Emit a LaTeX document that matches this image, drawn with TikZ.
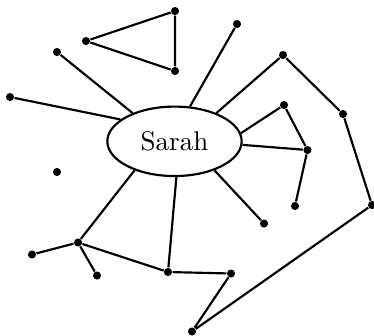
\documentclass[tikz,border=0pt]{standalone}
\usetikzlibrary{shapes.geometric}
\begin{document}
\begin{tikzpicture}[x=0.37pt,y=-0.37pt,
  dot/.style={circle,fill=black,inner sep=0pt,minimum size=3pt},
  edge/.style={draw=black,line width=0.8pt},
  centerbox/.style={ellipse,draw=black,line width=0.8pt,inner sep=0pt,minimum width=49.7pt,minimum height=25.7pt}]
\useasboundingbox (0,0) rectangle (374,335);
\node[centerbox] (s) at (174.5,141.3) {Sarah};
\node[dot] (A) at (175,11) {};
\node[dot] (B) at (86,41) {};
\node[dot] (C) at (175,71) {};
\node[dot] (D) at (57,52) {};
\node[dot] (E) at (10,97) {};
\node[dot] (F) at (237,24) {};
\node[dot] (G) at (283,55) {};
\node[dot] (H) at (343,114) {};
\node[dot] (I) at (372,205) {};
\node[dot] (J) at (192,331.5) {};
\node[dot] (K) at (231,273.5) {};
\node[dot] (L) at (168,272) {};
\node[dot] (M) at (78,242.5) {};
\node[dot] (N) at (32,254.5) {};
\node[dot] (O) at (97,275.5) {};
\node[dot] (P) at (57,172) {};
\node[dot] (Q) at (284,105) {};
\node[dot] (R) at (307.5,150) {};
\node[dot] (S) at (295,206) {};
\node[dot] (T) at (264,223.5) {};
\draw[edge] (A) -- (B) -- (C) -- (A);
\draw[edge] (D) -- (s.146.5);
\draw[edge] (E) -- (s.158.5);
\draw[edge] (F) -- (s.66.5);
\draw[edge] (G) -- (s.34);
\draw[edge] (G) -- (H) -- (I) -- (J) -- (K) -- (L) -- (M);
\draw[edge] (L) -- (s.-87);
\draw[edge] (M) -- (s.216);
\draw[edge] (M) -- (N);
\draw[edge] (M) -- (O);
\draw[edge] (Q) -- (s.7);
\draw[edge] (Q) -- (R);
\draw[edge] (R) -- (s.-3.5);
\draw[edge] (R) -- (S);
\draw[edge] (T) -- (s.-36.5);
\end{tikzpicture}
\end{document}
